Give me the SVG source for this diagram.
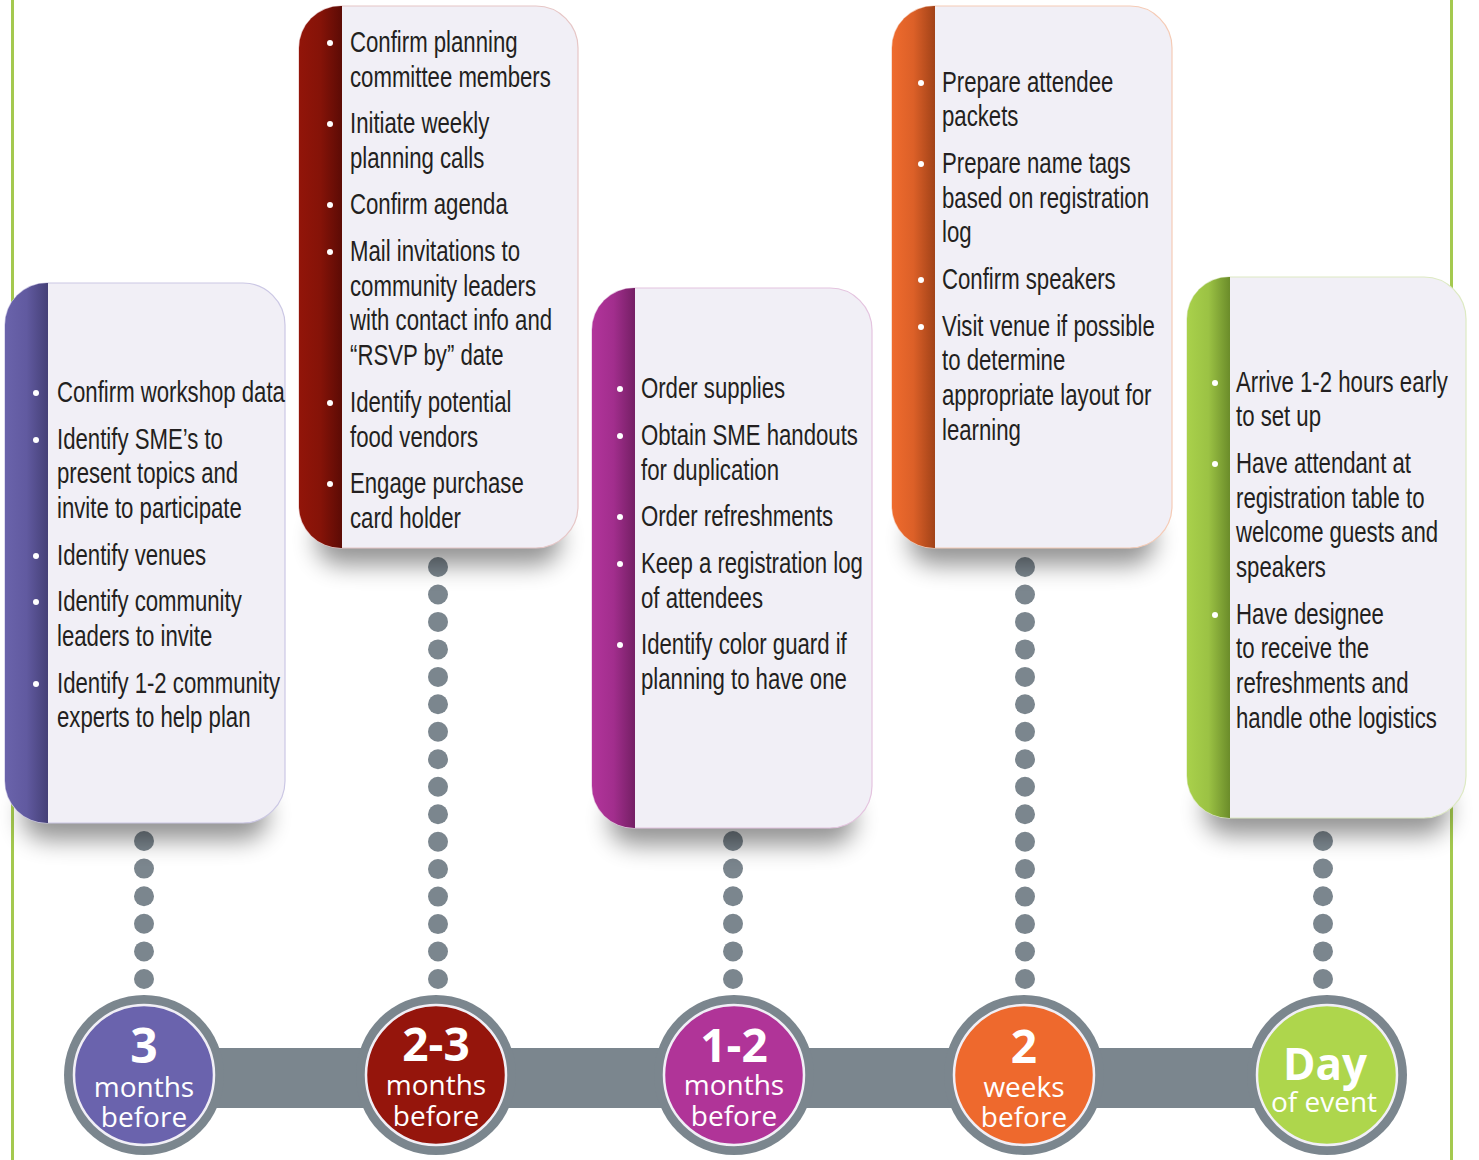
<svg xmlns="http://www.w3.org/2000/svg" width="1479" height="1160" viewBox="0 0 1479 1160">
<style>
.body{fill:#f1eff6;stroke-width:1.2}
.t{font-family:"Liberation Sans",Arial,sans-serif;font-size:29px;fill:#231f20}
.b{fill:#ffffff}
.dot{fill:#7b868e}
.ring{fill:#7b868e}
.num{font-family:"Open Sans","Noto Sans",sans-serif;font-weight:bold;fill:#ffffff;text-anchor:middle}
.lbl{font-family:"Open Sans","Noto Sans",sans-serif;font-size:28px;fill:#ffffff;text-anchor:middle}
.shadow{fill:#000;opacity:0.42;filter:url(#blur)}
</style>
<defs>
<filter id="blur" x="-30%" y="-100%" width="160%" height="300%"><feGaussianBlur stdDeviation="12"/></filter>
<linearGradient id="gP" x1="0" x2="1" y1="0" y2="0"><stop offset="0" stop-color="#6a63ab"/><stop offset="0.5" stop-color="#615aa0"/><stop offset="1" stop-color="#454077"/></linearGradient>
<linearGradient id="gR" x1="0" x2="1" y1="0" y2="0"><stop offset="0" stop-color="#921509"/><stop offset="0.5" stop-color="#851308"/><stop offset="1" stop-color="#5c0b05"/></linearGradient>
<linearGradient id="gM" x1="0" x2="1" y1="0" y2="0"><stop offset="0" stop-color="#b2349b"/><stop offset="0.5" stop-color="#a22e8d"/><stop offset="1" stop-color="#741f64"/></linearGradient>
<linearGradient id="gO" x1="0" x2="1" y1="0" y2="0"><stop offset="0" stop-color="#ef6b2d"/><stop offset="0.5" stop-color="#dc6028"/><stop offset="1" stop-color="#a14218"/></linearGradient>
<linearGradient id="gG" x1="0" x2="1" y1="0" y2="0"><stop offset="0" stop-color="#a9d14b"/><stop offset="0.5" stop-color="#9bc244"/><stop offset="1" stop-color="#6b8c2a"/></linearGradient>
</defs>
<rect width="1479" height="1160" fill="#ffffff"/>
<g id="frame">
<rect x="11" y="0" width="3" height="1160" fill="#a4c94f"/>
<rect x="1450" y="0" width="3" height="1160" fill="#a4c94f"/>
</g>
<g id="connectors">
<g class="dot">
<circle cx="144" cy="841" r="10"/><circle cx="144" cy="868.6" r="10"/><circle cx="144" cy="896.2" r="10"/><circle cx="144" cy="923.8" r="10"/><circle cx="144" cy="951.4" r="10"/><circle cx="144" cy="979" r="10"/>
<circle cx="438" cy="567" r="10"/><circle cx="438" cy="594.5" r="10"/><circle cx="438" cy="621.9" r="10"/><circle cx="438" cy="649.4" r="10"/><circle cx="438" cy="676.9" r="10"/><circle cx="438" cy="704.3" r="10"/><circle cx="438" cy="731.8" r="10"/><circle cx="438" cy="759.3" r="10"/><circle cx="438" cy="786.7" r="10"/><circle cx="438" cy="814.2" r="10"/><circle cx="438" cy="841.7" r="10"/><circle cx="438" cy="869.1" r="10"/><circle cx="438" cy="896.6" r="10"/><circle cx="438" cy="924.1" r="10"/><circle cx="438" cy="951.5" r="10"/><circle cx="438" cy="979" r="10"/>
<circle cx="733" cy="841" r="10"/><circle cx="733" cy="868.6" r="10"/><circle cx="733" cy="896.2" r="10"/><circle cx="733" cy="923.8" r="10"/><circle cx="733" cy="951.4" r="10"/><circle cx="733" cy="979" r="10"/>
<circle cx="1025" cy="567" r="10"/><circle cx="1025" cy="594.5" r="10"/><circle cx="1025" cy="621.9" r="10"/><circle cx="1025" cy="649.4" r="10"/><circle cx="1025" cy="676.9" r="10"/><circle cx="1025" cy="704.3" r="10"/><circle cx="1025" cy="731.8" r="10"/><circle cx="1025" cy="759.3" r="10"/><circle cx="1025" cy="786.7" r="10"/><circle cx="1025" cy="814.2" r="10"/><circle cx="1025" cy="841.7" r="10"/><circle cx="1025" cy="869.1" r="10"/><circle cx="1025" cy="896.6" r="10"/><circle cx="1025" cy="924.1" r="10"/><circle cx="1025" cy="951.5" r="10"/><circle cx="1025" cy="979" r="10"/>
<circle cx="1323" cy="841" r="10"/><circle cx="1323" cy="868.6" r="10"/><circle cx="1323" cy="896.2" r="10"/><circle cx="1323" cy="923.8" r="10"/><circle cx="1323" cy="951.4" r="10"/><circle cx="1323" cy="979" r="10"/>
</g>
<rect x="144" y="1048" width="1183" height="60" fill="#7b868e"/>
</g>
<g id="shadows">
<rect class="shadow" x="22" y="790" width="246" height="50" rx="25"/>
<rect class="shadow" x="316" y="515" width="245" height="50" rx="25"/>
<rect class="shadow" x="609" y="795" width="246" height="50" rx="25"/>
<rect class="shadow" x="909" y="515" width="246" height="50" rx="25"/>
<rect class="shadow" x="1204" y="785" width="245" height="50" rx="25"/>
</g>
<g id="card1">
<rect class="body" x="5" y="283" width="280" height="540" rx="42" stroke="#cbc7e4"/>
<path d="M48,283 H47 A42,42 0 0 0 5,325 V781 A42,42 0 0 0 47,823 H48 Z" fill="url(#gP)"/>
<g class="b"><circle cx="36" cy="393" r="3"/><circle cx="36" cy="440" r="3"/><circle cx="36" cy="556" r="3"/><circle cx="36" cy="602" r="3"/><circle cx="36" cy="684" r="3"/></g>
<g transform="translate(57 0) scale(0.765 1)" class="t">
<text x="0" y="402">Confirm workshop data</text>
<text x="0" y="449">Identify SME’s to</text>
<text x="0" y="483">present topics and</text>
<text x="0" y="518">invite to participate</text>
<text x="0" y="565">Identify venues</text>
<text x="0" y="611">Identify community</text>
<text x="0" y="646">leaders to invite</text>
<text x="0" y="693">Identify 1-2 community</text>
<text x="0" y="727">experts to help plan</text>
</g>
</g>
<g id="card2">
<rect class="body" x="299" y="6" width="279" height="542" rx="42" stroke="#e6c6c6"/>
<path d="M342,6 H341 A42,42 0 0 0 299,48 V506 A42,42 0 0 0 341,548 H342 Z" fill="url(#gR)"/>
<g class="b"><circle cx="330" cy="43" r="3"/><circle cx="330" cy="124" r="3"/><circle cx="330" cy="205" r="3"/><circle cx="330" cy="252" r="3"/><circle cx="330" cy="403" r="3"/><circle cx="330" cy="484" r="3"/></g>
<g transform="translate(350 0) scale(0.765 1)" class="t">
<text x="0" y="52">Confirm planning</text>
<text x="0" y="87">committee members</text>
<text x="0" y="133">Initiate weekly</text>
<text x="0" y="168">planning calls</text>
<text x="0" y="214">Confirm agenda</text>
<text x="0" y="261">Mail invitations to</text>
<text x="0" y="296">community leaders</text>
<text x="0" y="330">with contact info and</text>
<text x="0" y="365">“RSVP by” date</text>
<text x="0" y="412">Identify potential</text>
<text x="0" y="447">food vendors</text>
<text x="0" y="493">Engage purchase</text>
<text x="0" y="528">card holder</text>
</g>
</g>
<g id="card3">
<rect class="body" x="592" y="288" width="280" height="540" rx="42" stroke="#e4c4df"/>
<path d="M635,288 H634 A42,42 0 0 0 592,330 V786 A42,42 0 0 0 634,828 H635 Z" fill="url(#gM)"/>
<g class="b"><circle cx="620" cy="389" r="3"/><circle cx="620" cy="436" r="3"/><circle cx="620" cy="517" r="3"/><circle cx="620" cy="564" r="3"/><circle cx="620" cy="645" r="3"/></g>
<g transform="translate(641 0) scale(0.765 1)" class="t">
<text x="0" y="398">Order supplies</text>
<text x="0" y="445">Obtain SME handouts</text>
<text x="0" y="480">for duplication</text>
<text x="0" y="526">Order refreshments</text>
<text x="0" y="573">Keep a registration log</text>
<text x="0" y="608">of attendees</text>
<text x="0" y="654">Identify color guard if</text>
<text x="0" y="689">planning to have one</text>
</g>
</g>
<g id="card4">
<rect class="body" x="892" y="6" width="280" height="542" rx="42" stroke="#f5cbb6"/>
<path d="M935,6 H934 A42,42 0 0 0 892,48 V506 A42,42 0 0 0 934,548 H935 Z" fill="url(#gO)"/>
<g class="b"><circle cx="921" cy="83" r="3"/><circle cx="921" cy="164" r="3"/><circle cx="921" cy="280" r="3"/><circle cx="921" cy="327" r="3"/></g>
<g transform="translate(942 0) scale(0.765 1)" class="t">
<text x="0" y="92">Prepare attendee</text>
<text x="0" y="126">packets</text>
<text x="0" y="173">Prepare name tags</text>
<text x="0" y="208">based on registration</text>
<text x="0" y="242">log</text>
<text x="0" y="289">Confirm speakers</text>
<text x="0" y="336">Visit venue if possible</text>
<text x="0" y="370">to determine</text>
<text x="0" y="405">appropriate layout for</text>
<text x="0" y="440">learning</text>
</g>
</g>
<g id="card5">
<rect class="body" x="1187" y="277" width="279" height="541" rx="42" stroke="#dde9c3"/>
<path d="M1230,277 H1229 A42,42 0 0 0 1187,319 V776 A42,42 0 0 0 1229,818 H1230 Z" fill="url(#gG)"/>
<g class="b"><circle cx="1215" cy="383" r="3"/><circle cx="1215" cy="464" r="3"/><circle cx="1215" cy="615" r="3"/></g>
<g transform="translate(1236 0) scale(0.765 1)" class="t">
<text x="0" y="392">Arrive 1-2 hours early</text>
<text x="0" y="426">to set up</text>
<text x="0" y="473">Have attendant at</text>
<text x="0" y="508">registration table to</text>
<text x="0" y="542">welcome guests and</text>
<text x="0" y="577">speakers</text>
<text x="0" y="624">Have designee</text>
<text x="0" y="658">to receive the</text>
<text x="0" y="693">refreshments and</text>
<text x="0" y="728">handle othe logistics</text>
</g>
</g>
<g id="m1">
<circle class="ring" cx="144" cy="1075" r="80"/>
<circle cx="144" cy="1075" r="70" fill="#6a63ad" stroke="#f1eff6" stroke-width="2.5"/>
<text class="num" x="144" y="1063" font-size="48">3</text>
<text class="lbl" x="144" y="1097">months</text>
<text class="lbl" x="144" y="1127">before</text>
</g>
<g id="m2">
<circle class="ring" cx="436" cy="1075" r="80"/>
<circle cx="436" cy="1075" r="70" fill="#95150c" stroke="#f1eff6" stroke-width="2.5"/>
<text class="num" x="436" y="1061" font-size="46">2-3</text>
<text class="lbl" x="436" y="1095">months</text>
<text class="lbl" x="436" y="1126">before</text>
</g>
<g id="m3">
<circle class="ring" cx="734" cy="1075" r="80"/>
<circle cx="734" cy="1075" r="70" fill="#b03498" stroke="#f1eff6" stroke-width="2.5"/>
<text class="num" x="734" y="1062" font-size="46">1-2</text>
<text class="lbl" x="734" y="1095">months</text>
<text class="lbl" x="734" y="1126">before</text>
</g>
<g id="m4">
<circle class="ring" cx="1024" cy="1075" r="80"/>
<circle cx="1024" cy="1075" r="70" fill="#ee692d" stroke="#f1eff6" stroke-width="2.5"/>
<text class="num" x="1024" y="1063" font-size="46">2</text>
<text class="lbl" x="1024" y="1097">weeks</text>
<text class="lbl" x="1024" y="1127">before</text>
</g>
<g id="m5">
<circle class="ring" cx="1327" cy="1075" r="80"/>
<circle cx="1327" cy="1075" r="70" fill="#aed64c" stroke="#f1eff6" stroke-width="2.5"/>
<text class="num" x="1325" y="1080" font-size="44">Day</text>
<text class="lbl" x="1324" y="1112">of event</text>
</g>
</svg>
